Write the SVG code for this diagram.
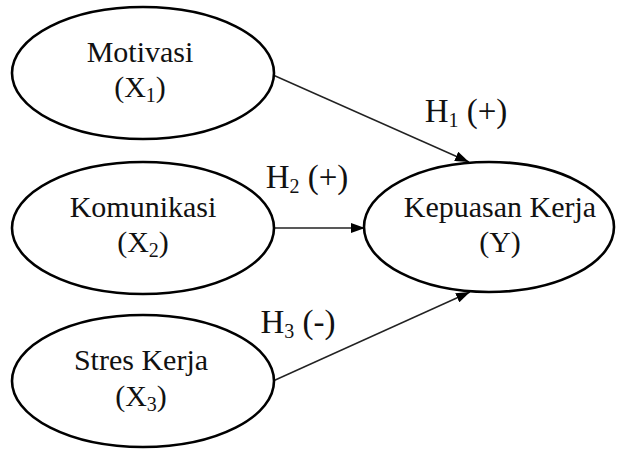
<svg xmlns="http://www.w3.org/2000/svg" width="619" height="450" viewBox="0 0 619 450">
<style>
.node ellipse{fill:#fff;stroke:#000;stroke-width:2.6}
.lbl{font-family:"Liberation Serif","Times New Roman",serif;font-size:30px;fill:#111;text-anchor:middle}
.hl{font-size:33px}
.sub{font-size:20px}
.conn line{stroke:#222;stroke-width:1.4}
</style>
<defs>
<marker id="ah" viewBox="0 0 14 10" refX="14" refY="5" markerWidth="14" markerHeight="10" markerUnits="userSpaceOnUse" orient="auto">
<path d="M0,0 L14,5 L0,10 Z" fill="#000"/>
</marker>
</defs>
<rect width="619" height="450" fill="#fff"/>
<g id="connectors" class="conn">
<line x1="273" y1="75" x2="469" y2="162" marker-end="url(#ah)"/>
<line x1="273" y1="228" x2="365" y2="228" marker-end="url(#ah)"/>
<line x1="273" y1="381" x2="470" y2="292" marker-end="url(#ah)"/>
</g>
<g id="motivasi" class="node">
<ellipse cx="143" cy="73" rx="131" ry="66"/>
<text class="lbl" x="140" y="62">Motivasi</text>
<text class="lbl" x="140" y="97">(X<tspan class="sub" dy="5">1</tspan><tspan dy="-5">)</tspan></text>
</g>
<g id="komunikasi" class="node">
<ellipse cx="143" cy="228" rx="131" ry="66"/>
<text class="lbl" x="143" y="217">Komunikasi</text>
<text class="lbl" x="143" y="252">(X<tspan class="sub" dy="5">2</tspan><tspan dy="-5">)</tspan></text>
</g>
<g id="stres" class="node">
<ellipse cx="143" cy="381" rx="131" ry="66"/>
<text class="lbl" x="141" y="370">Stres Kerja</text>
<text class="lbl" x="141" y="406">(X<tspan class="sub" dy="5">3</tspan><tspan dy="-5">)</tspan></text>
</g>
<g id="kepuasan" class="node">
<ellipse cx="489" cy="227" rx="125" ry="65"/>
<text class="lbl" x="500" y="217">Kepuasan Kerja</text>
<text class="lbl" x="500" y="252">(Y)</text>
</g>
<g id="labels">
<text class="lbl hl" x="466" y="122">H<tspan class="sub" dy="5">1</tspan><tspan dy="-5"> (+)</tspan></text>
<text class="lbl hl" x="307" y="188">H<tspan class="sub" dy="5">2</tspan><tspan dy="-5"> (+)</tspan></text>
<text class="lbl hl" x="298" y="333">H<tspan class="sub" dy="5">3</tspan><tspan dy="-5"> (-)</tspan></text>
</g>
</svg>
